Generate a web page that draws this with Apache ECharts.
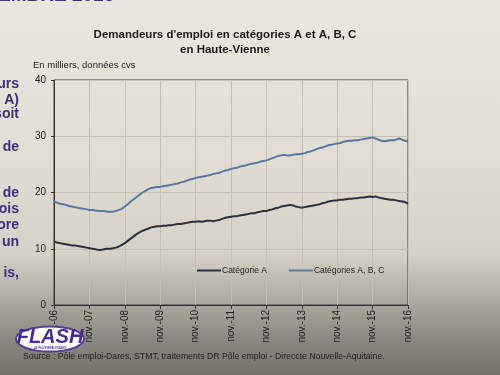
<!DOCTYPE html>
<html><head><meta charset="utf-8">
<script src="https://cdn.jsdelivr.net/npm/echarts@6/dist/echarts.min.js"></script>
<style>
html,body{margin:0;padding:0;}
body{width:500px;height:375px;overflow:hidden;background:linear-gradient(180deg,#ebe7df 0%,#e2ded4 40%,#d5d1c7 68%,#aeaaa2 80%,#8d8a83 90%,#74716b 100%);}
#c{width:500px;height:375px;}
</style></head><body>
<div id="c"></div>
<script>
const yearLabels = ['nov.-06','nov.-07','nov.-08','nov.-09','nov.-10','nov.-11','nov.-12','nov.-13','nov.-14','nov.-15','nov.-16'];
const seriesNames = ['Catégorie A','Catégories A, B, C'];
const catA = [
 11.3,11.1,11.0,10.9,10.8,10.7,10.6,10.6,10.5,10.4,10.3,10.2,
 10.1,10.0,9.9,9.8,9.8,9.9,10.0,10.0,10.1,10.2,10.4,10.7,
 11.0,11.4,11.8,12.2,12.6,12.9,13.2,13.4,13.6,13.8,13.9,14.0,
 14.0,14.1,14.1,14.2,14.2,14.3,14.4,14.4,14.5,14.6,14.7,14.8,
 14.8,14.9,14.8,14.9,15.0,15.0,14.9,15.0,15.1,15.3,15.5,15.6,
 15.7,15.8,15.8,15.9,16.0,16.1,16.2,16.3,16.3,16.5,16.6,16.7,
 16.7,16.9,17.0,17.2,17.3,17.5,17.6,17.7,17.8,17.7,17.5,17.4,
 17.3,17.4,17.5,17.6,17.7,17.8,17.9,18.1,18.2,18.4,18.5,18.6,
 18.6,18.7,18.7,18.8,18.9,18.9,19.0,19.0,19.1,19.1,19.2,19.3,
 19.2,19.3,19.1,19.0,18.9,18.8,18.7,18.7,18.6,18.5,18.4,18.3,
 18.0];
const catABC = [
 18.4,18.2,18.0,17.9,17.8,17.6,17.5,17.4,17.3,17.2,17.1,17.0,
 16.9,16.9,16.8,16.7,16.7,16.7,16.6,16.6,16.6,16.7,16.9,17.1,
 17.5,17.9,18.4,18.8,19.2,19.6,20.0,20.3,20.6,20.8,20.9,21.0,
 21.0,21.1,21.2,21.3,21.4,21.5,21.6,21.8,21.9,22.1,22.3,22.4,
 22.6,22.7,22.8,22.9,23.0,23.1,23.3,23.4,23.5,23.7,23.9,24.0,
 24.2,24.3,24.4,24.6,24.7,24.8,25.0,25.1,25.2,25.3,25.5,25.6,
 25.7,25.9,26.1,26.3,26.5,26.6,26.7,26.6,26.6,26.7,26.8,26.8,
 26.9,27.0,27.2,27.3,27.5,27.7,27.9,28.0,28.2,28.4,28.5,28.6,
 28.7,28.8,29.0,29.1,29.2,29.2,29.3,29.3,29.4,29.5,29.6,29.7,
 29.8,29.6,29.4,29.2,29.1,29.2,29.3,29.3,29.4,29.6,29.4,29.2,
 29.1];
const sideText = [['urs',84],['e A)',100],['soit',114],['de',147],['de',193],['ois',209],['ore',225],['un',242],['is,',273]];

const categories = catA.map((v,i)=> i%12===0 ? yearLabels[i/12] : ('m'+i));
const F = '"Liberation Sans", Arial, sans-serif';
const chart = echarts.init(document.getElementById('c'), null, {renderer:'canvas'});
const gfx = [
  {type:'text', x:225, y:35, style:{text:"Demandeurs d'emploi en catégories A et A, B, C", font:'bold 11.5px '+F, fill:'#1c1c1c', textAlign:'center', textVerticalAlign:'middle'}},
  {type:'text', x:225, y:50, style:{text:'en Haute-Vienne', font:'bold 11.5px '+F, fill:'#1c1c1c', textAlign:'center', textVerticalAlign:'middle'}},
  {type:'text', x:33, y:65, style:{text:'En milliers, données cvs', font:'9.5px '+F, fill:'#222', textVerticalAlign:'middle'}},
  {type:'text', left:-2, top:-14, style:{text:'EMBRE 2016', font:'bold 19px '+F, fill:'#3a2f86'}},
  {type:'text', x:23, y:357, style:{text:'Source : Pôle emploi-Dares, STMT, traitements DR Pôle emploi - Direccte Nouvelle-Aquitaine.', font:'8.7px '+F, fill:'#1e1e1e', textVerticalAlign:'middle'}},
  {type:'ellipse', shape:{cx:50, cy:339, rx:34, ry:12.5}, style:{fill:'#ffffff', stroke:'#5a3a9a', lineWidth:2}, z:10},
  {type:'text', x:50, y:337, style:{text:'FLASH', font:'italic bold 20px '+F, fill:'#4a2a8e', textAlign:'center', textVerticalAlign:'middle'}, z:11},
  {type:'text', x:50, y:348, style:{text:'LE PLUS BEAU RADIO', font:'bold 3px '+F, fill:'#4a2a8e', textAlign:'center', textVerticalAlign:'middle'}, z:11}
];
sideText.forEach(t=>gfx.push({type:'text', x:19, y:t[1], style:{text:t[0], font:'bold 14px '+F, fill:'#3b2f7e', textAlign:'right', textVerticalAlign:'middle'}}));
chart.setOption({
  animation:false,
  textStyle:{fontFamily:F},
  grid:{left:54, right:92, top:80, bottom:70, show:true, borderColor:'#3a3a3a', borderWidth:1, backgroundColor:'transparent'},
  legend:{left:192, top:261, itemWidth:24, itemHeight:2, itemGap:22, icon:'rect',
    textStyle:{fontSize:8.5, color:'#222', fontFamily:F, padding:[0,0,0,-4]}, data:seriesNames},
  xAxis:{type:'category', data:categories, boundaryGap:false,
    axisLine:{lineStyle:{color:'#333'}},
    axisTick:{interval:11, length:4, lineStyle:{color:'#333'}},
    axisLabel:{interval:11, rotate:90, fontSize:10, color:'#222', margin:5, fontFamily:F},
    splitLine:{show:true, interval:11, lineStyle:{color:'#c4c0b7', width:1}}},
  yAxis:{type:'value', min:0, max:40, interval:10,
    axisLine:{show:true, lineStyle:{color:'#333'}},
    axisTick:{show:true, length:3, lineStyle:{color:'#333'}},
    axisLabel:{fontSize:10, color:'#222', margin:8, fontFamily:F},
    splitLine:{show:true, lineStyle:{color:'#c4c0b7', width:1}}},
  series:[
    {name:seriesNames[0], type:'line', data:catA, showSymbol:false, lineStyle:{color:'#28303f', width:2}, itemStyle:{color:'#28303f'}},
    {name:seriesNames[1], type:'line', data:catABC, showSymbol:false, lineStyle:{color:'#5a76a6', width:2}, itemStyle:{color:'#5a76a6'}}
  ],
  graphic:gfx
});
</script>
</body></html>
